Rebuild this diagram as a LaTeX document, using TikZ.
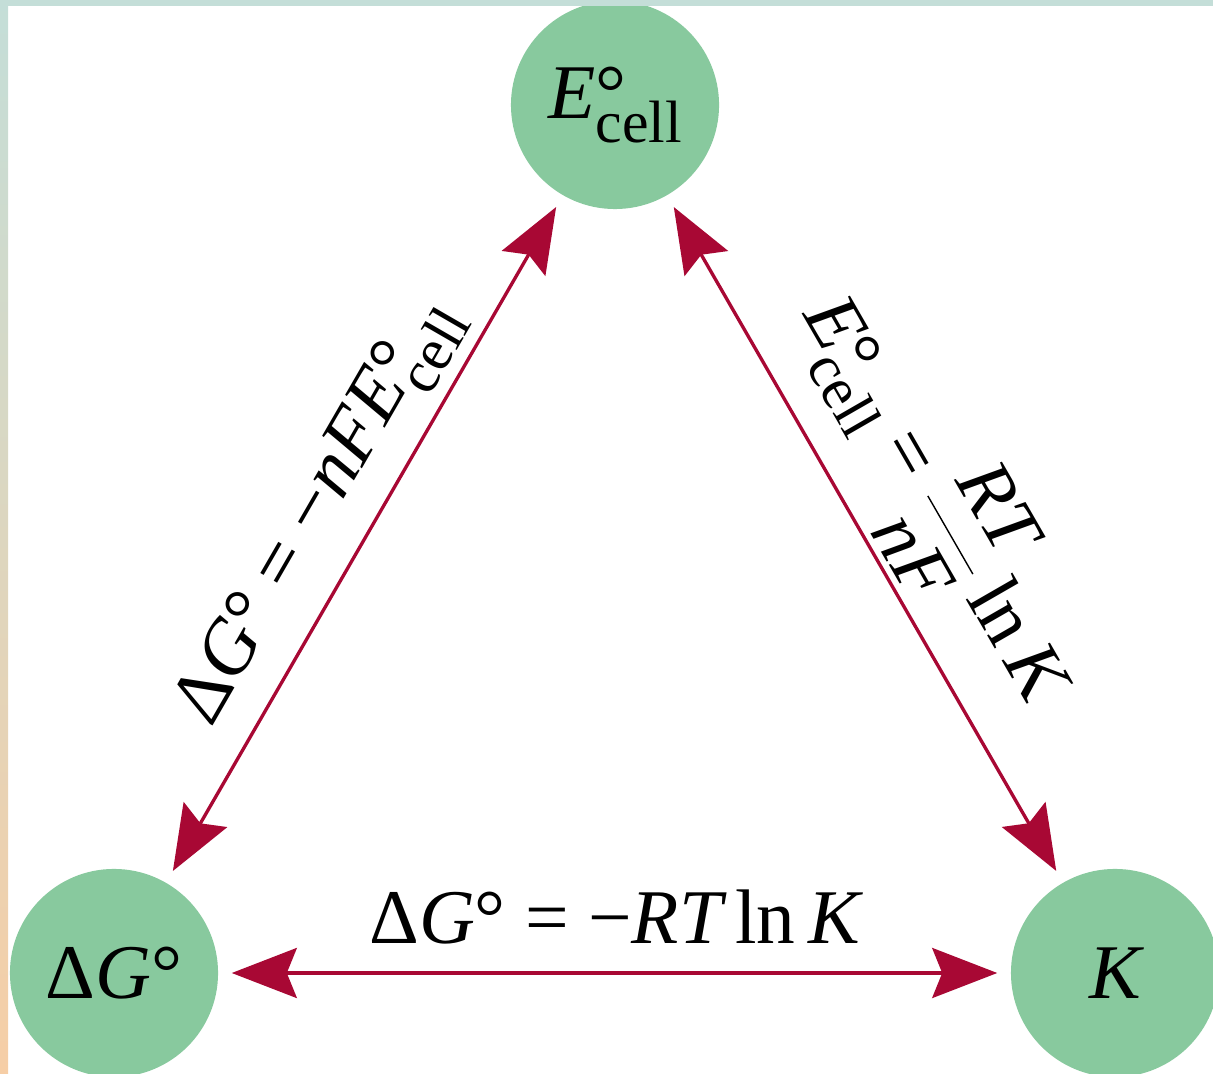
\documentclass[tikz,border=0pt]{standalone}
\usepackage{fontspec}
\setmainfont{Liberation Serif}
\usetikzlibrary{arrows.meta}
\definecolor{ballgreen}{RGB}{136,201,158}
\definecolor{arrowred}{RGB}{168,8,52}
\definecolor{stripblue}{RGB}{196,222,216}
\definecolor{strippeach}{RGB}{246,206,166}
\newcommand{\subfont}{\fontsize{17}{17}\selectfont}
\newcommand{\Ecellsym}{{\itshape E}\rlap{°}\raisebox{-0.3em}{\subfont cell}}
\newcommand{\RTnF}{$\displaystyle\frac{\hbox{\itshape RT}}{\hbox{\itshape nF}}$}
\begin{document}
\begin{tikzpicture}[x=0.01cm, y=-0.01cm, >={Stealth[length=6.5mm, width=5mm, inset=1mm]}, every node/.style={font=\fontsize{22}{26}\selectfont},
  ball/.style={circle, fill=ballgreen, minimum size=2.08cm, inner sep=0pt},
  link/.style={<->, draw=arrowred, line width=0.95pt, shorten >=1.3mm, shorten <=1.3mm}]
  \useasboundingbox (0,0) rectangle (1213,1074);
  \clip (0,0) rectangle (1213,1074);
  \node[ball] (ecell) at (615,105) {\Ecellsym};
  \node[ball] (dg) at (114,973) {Δ{\itshape G}°};
  \node[ball] (kk) at (1115,973) {\itshape K};
  \draw[link] (dg) -- (ecell) node[midway, sloped, above, inner sep=1.2mm] {Δ{\itshape G}° = −{\itshape nF}\Ecellsym};
  \draw[link] (ecell) -- (kk) node[midway, sloped, above, inner sep=0.6mm] {\Ecellsym{} = \RTnF\,ln\,{\itshape K}};
  \draw[link] (dg) -- (kk) node[midway, above, inner sep=2.7mm] {Δ{\itshape G}° = −{\itshape RT}\,ln\,{\itshape K}};
  % frame strips
  \fill[stripblue] (0,0) rectangle (1213,6);
  \shade[top color=stripblue, bottom color=strippeach] (0,0) rectangle (8,1074);
\end{tikzpicture}
\end{document}
